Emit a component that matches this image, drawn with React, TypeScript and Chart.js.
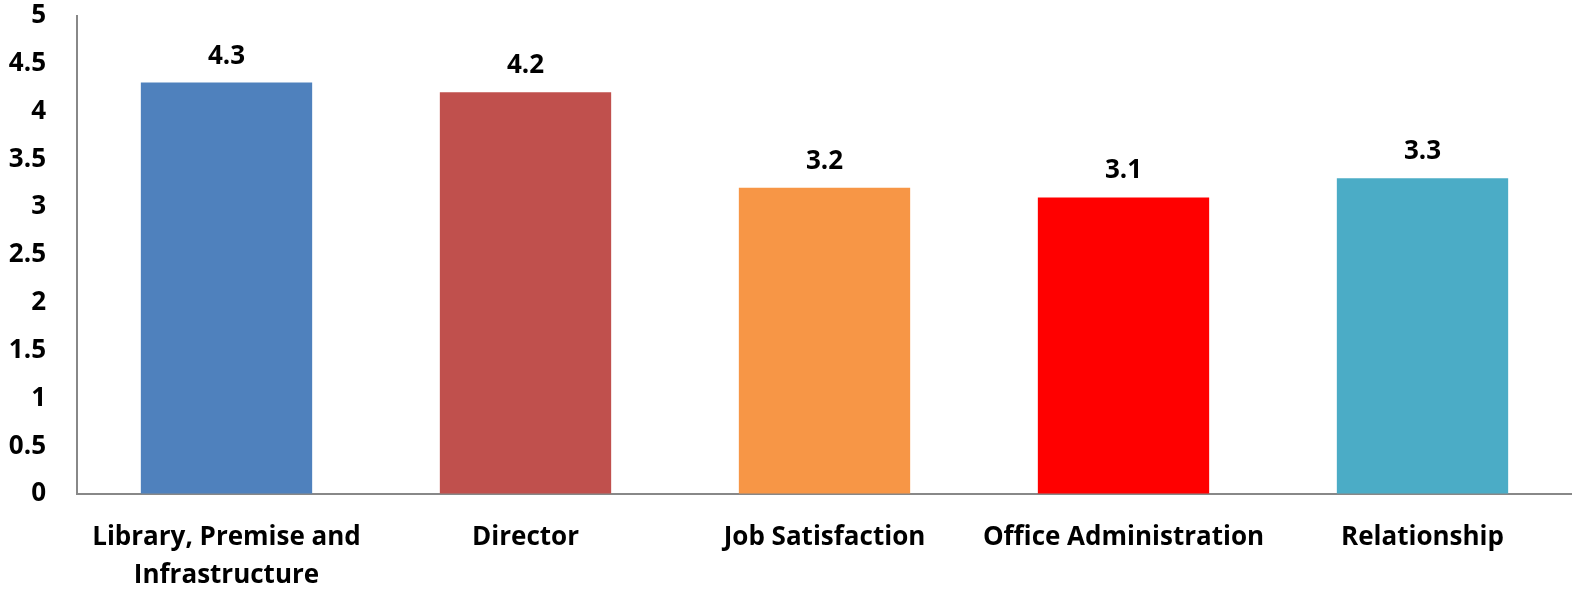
import React, { useEffect, useRef } from "react";
import { Chart, registerables } from "chart.js";

Chart.register(...registerables);

const categories: (string | string[])[] = [
  ["Library, Premise and", "Infrastructure"],
  "Director",
  "Job Satisfaction",
  "Office Administration",
  "Relationship",
];
const scores = [4.3, 4.2, 3.2, 3.1, 3.3];
const barColors = ["#4F81BD", "#C0504D", "#F79646", "#FF0000", "#4BACC6"];
const yMin = 0;
const yMax = 5;
const yStep = 0.5;

const FONT = "'Open Sans', 'DejaVu Sans', sans-serif";
const FSIZE = 26;

const valueLabels = {
  id: "valueLabels",
  afterDatasetsDraw(chart: any) {
    const ctx = chart.ctx;
    const meta = chart.getDatasetMeta(0);
    ctx.save();
    ctx.font = `bold ${FSIZE}px ${FONT}`;
    ctx.fillStyle = "#000";
    ctx.textAlign = "center";
    ctx.textBaseline = "alphabetic";
    meta.data.forEach((bar: any, i: number) => {
      const v = chart.data.datasets[0].data[i];
      ctx.fillText(String(v), bar.x, bar.y - 19);
    });
    ctx.restore();
  },
};

export default function App() {
  const ref = useRef<HTMLCanvasElement>(null);
  useEffect(() => {
    document.body.style.margin = "0";
    const chart = new Chart(ref.current!, {
      type: "bar",
      data: {
        labels: categories,
        datasets: [
          {
            data: scores,
            backgroundColor: barColors,
            borderWidth: 0,
            categoryPercentage: 1,
            barPercentage: 0.573,
          },
        ],
      },
      options: {
        animation: false,
        responsive: false,
        maintainAspectRatio: false,
        layout: { padding: 0 },
        plugins: { legend: { display: false }, tooltip: { enabled: false } },
        scales: {
          x: {
            grid: { display: false, drawTicks: false },
            border: { display: true, color: "#888888", width: 2 },
            ticks: {
              color: "#000",
              padding: 25,
              maxRotation: 0,
              autoSkip: false,
              font: { family: FONT, size: FSIZE, weight: "bold", lineHeight: 1.46 },
            },
            afterFit: (s: any) => {
              s.height = 95;
            },
          },
          y: {
            min: yMin,
            max: yMax,
            grid: {
              display: true,
              drawOnChartArea: false,
              drawTicks: true,
              tickLength: 31,
              color: "rgba(0,0,0,0)",
            },
            border: { display: true, color: "#888888", width: 2 },
            ticks: {
              stepSize: yStep,
              color: "#000",
              padding: 0,
              font: { family: FONT, size: FSIZE, weight: "bold" },
              callback: (v: any) => String(v),
            },
            afterFit: (s: any) => {
              s.width = 77;
            },
          },
        },
      },
      plugins: [valueLabels],
    });
    return () => chart.destroy();
  }, []);
  return (
    <div style={{ position: "absolute", left: 0, top: 0, width: 1572, height: 589 }}>
      <canvas ref={ref} width={1572} height={589} />
    </div>
  );
}
